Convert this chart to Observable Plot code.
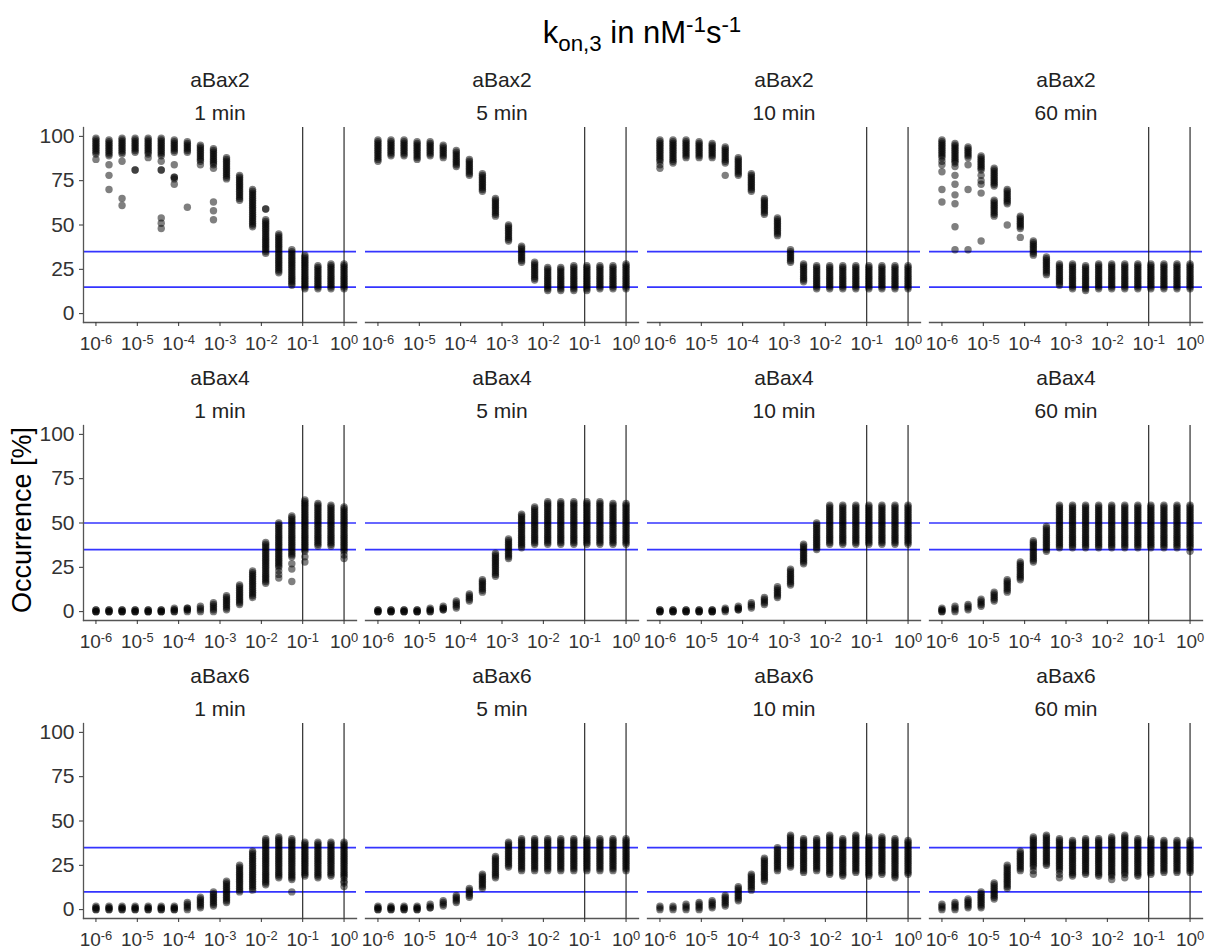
<!DOCTYPE html>
<html><head><meta charset="utf-8">
<script src="https://cdn.jsdelivr.net/npm/d3@7"></script>
<script src="https://cdn.jsdelivr.net/npm/@observablehq/plot@0.6"></script>
<style>
body{margin:0;background:#fff;font-family:"Liberation Sans",Arial,Helvetica,sans-serif;}
#root{position:relative;width:1214px;height:952px;overflow:hidden;}
.panel{position:absolute;}
#title{position:absolute;left:0;width:1284px;top:5px;text-align:center;font-size:31px;color:#000;line-height:40px;}
#title sub,#title sup{font-size:0.72em;}
#ylab{position:absolute;left:22px;top:520px;transform:translate(-50%,-50%) rotate(-90deg);font-size:27px;white-space:nowrap;color:#000;}
</style></head><body><div id="root">
<div id="title">k<sub>on,3</sub> in nM<sup>-1</sup>s<sup>-1</sup></div>
<div id="ylab">Occurrence [%]</div>
</div>
<script>
// x categories (k_on,3 values, nM^-1 s^-1)
const kon = [1e-6, 2.069e-6, 4.281e-6, 8.859e-6, 1.833e-5, 3.793e-5, 7.848e-5, 1.624e-4, 3.360e-4, 6.952e-4,
             1.438e-3, 2.976e-3, 6.158e-3, 1.274e-2, 2.637e-2, 5.456e-2, 0.1129, 0.2336, 0.4833, 1];
const proteins = ["aBax2", "aBax4", "aBax6"];
const times = ["1 min", "5 min", "10 min", "60 min"];
const xTicks = [1e-6, 1e-5, 1e-4, 1e-3, 1e-2, 1e-1, 1];
const yTicks = [0, 25, 50, 75, 100];
const vLines = [0.1, 1];
const hLines_aBax2 = [15, 35];
const hLines_aBax4 = [35, 50];
const hLines_aBax6 = [10, 35];

// occurrence values (%) per k_on,3 column
const aBax2_1min = [
"87 90 91 92 93 94 95 96 97 98 99",
"70 78 84 89 90 91 92 93 94 95 96 97 98",
"61 65 86 90 91 92 93 94 95 96 97 98 99",
"81 81 91 92 93 94 95 96 97 98 99",
"88 90 91 92 93 94 95 96 97 98 99",
"48 51 54 81 81 86 89 90 91 92 93 94 95 96 97 98 99",
"73 76 77 77 84 91 92 93 94 95 96 97 98",
"60 91 92 93 94 95 96 97",
"84 86 87 88 89 90 91 92 93 94 95",
"53 58 63 82 84 85 86 87 88 89 90 91 92 93",
"76 77 78 79 80 81 82 83 84 85 86 87 88",
"64 65 66 67 68 69 70 71 72 73 74 75 76 77 78",
"49 50 51 52 53 54 55 56 57 58 59 60 61 62 63 64 65 66 67 68 69 70",
"34 35 36 37 38 39 40 41 42 43 44 45 46 47 48 49 50 51 52 53 59 59",
"23 24 25 26 27 28 29 30 31 32 33 34 35 36 37 38 39 40 41 42 43 44 45",
"16 17 18 19 20 21 22 23 24 25 26 27 28 29 30 31 32 33 34 35 36",
"14 15 16 17 18 19 20 21 22 23 24 25 26 27 28 29 30 31 32 33",
"14 15 16 17 18 19 20 21 22 23 24 25 26 27",
"14 15 16 17 18 19 20 21 22 23 24 25 26 27 28",
"14 15 16 17 18 19 20 21 22 23 24 25 26 27 28"];
const aBax2_5min = [
"86 87 88 89 90 91 92 93 94 95 96 97 98",
"89 90 91 92 93 94 95 96 97 98",
"89 90 91 92 93 94 95 96 97 98",
"87 88 89 90 91 92 93 94 95 96 97",
"89 90 91 92 93 94 95 96 97",
"88 89 90 91 92 93 94 95",
"83 84 85 86 87 88 89 90 91 92",
"78 79 80 81 82 83 84 85 86 87",
"69 70 71 72 73 74 75 76 77 78 79",
"55 56 57 58 59 60 61 62 63 64 65",
"41 42 43 44 45 46 47 48 49 50",
"29 30 31 32 33 34 35 36 37 38",
"19 20 21 22 23 24 25 26 27 28 29",
"13 14 15 16 17 18 19 20 21 22 23 24 25 26",
"13 14 15 16 17 18 19 20 21 22 23 24 25 26",
"13 14 15 16 17 18 19 20 21 22 23 24 25 26 27",
"13 14 15 16 17 18 19 20 21 22 23 24 25 26 27",
"14 15 16 17 18 19 20 21 22 23 24 25 26 27",
"14 15 16 17 18 19 20 21 22 23 24 25 26 27",
"14 15 16 17 18 19 20 21 22 23 24 25 26 27 28"];
const aBax2_10min = [
"82 84 86 87 88 89 90 91 92 93 94 95 96 97 98",
"85 86 87 88 89 90 91 92 93 94 95 96 97 98",
"88 89 90 91 92 93 94 95 96 97 98",
"88 89 90 91 92 93 94 95 96 97",
"88 89 90 91 92 93 94 95 96",
"78 85 86 87 88 89 90 91 92 93 94",
"78 79 80 81 82 83 84 85 86 87 88",
"69 70 71 72 73 74 75 76 77 78 79",
"56 57 58 59 60 61 62 63 64 65",
"44 45 46 47 48 49 50 51 52 53 54",
"29 30 31 32 33 34 35 36",
"18 19 20 21 22 23 24 25 26 27 28",
"14 15 16 17 18 19 20 21 22 23 24 25 26 27",
"14 15 16 17 18 19 20 21 22 23 24 25 26 27",
"14 15 16 17 18 19 20 21 22 23 24 25 26 27",
"14 15 16 17 18 19 20 21 22 23 24 25 26 27",
"14 15 16 17 18 19 20 21 22 23 24 25 26 27",
"14 15 16 17 18 19 20 21 22 23 24 25 26 27",
"14 15 16 17 18 19 20 21 22 23 24 25 26 27",
"14 15 16 17 18 19 20 21 22 23 24 25 26 27"];
const aBax2_60min = [
"63 70 80 84 86 88 89 90 91 92 93 94 95 96 97 98",
"36 49 62 67 73 78 83 85 86 87 88 89 90 91 92 93 94 95 96",
"36 70 84 88 89 90 91 92 93 94",
"41 68 73 75 78 81 82 83 84 85 86 87 88 89",
"55 56 57 58 59 60 61 62 63 64 72 73 74 75 76 77 78 79 80 81 82",
"50 62 63 64 65 66 67 68 69 70",
"43 48 49 50 51 52 53 54 55",
"33 34 35 36 37 38 39 40 41",
"22 23 24 25 26 27 28 29 30 31 32",
"16 17 18 19 20 21 22 23 24 25 26 27 28",
"14 15 16 17 18 19 20 21 22 23 24 25 26 27 28",
"13 14 15 16 17 18 19 20 21 22 23 24 25 26 27",
"14 15 16 17 18 19 20 21 22 23 24 25 26 27 28",
"14 15 16 17 18 19 20 21 22 23 24 25 26 27 28",
"14 15 16 17 18 19 20 21 22 23 24 25 26 27 28",
"14 15 16 17 18 19 20 21 22 23 24 25 26 27 28",
"14 15 16 17 18 19 20 21 22 23 24 25 26 27 28",
"14 15 16 17 18 19 20 21 22 23 24 25 26 27 28",
"14 15 16 17 18 19 20 21 22 23 24 25 26 27 28",
"14 15 16 17 18 19 20 21 22 23 24 25 26 27 28"];
const aBax4_1min = [
"0 0 0 1 1", "0 0 0 1 1", "0 0 0 1 1", "0 0 0 1 1", "0 0 0 1 1", "0 0 0 1 1",
"0 0 1 1 2",
"0 1 1 2 2",
"0 1 2 3",
"0 1 2 3 4 5",
"1 2 3 4 5 6 7 8 9",
"4 5 6 7 8 9 10 11 12 13 14 15",
"8 9 10 11 12 13 14 15 16 17 18 19 20 21 22 23",
"16 17 18 19 20 21 22 23 24 25 26 27 28 29 30 31 32 33 34 35 36 37 38 39",
"19 21 23 25 26 27 28 29 30 31 32 33 34 35 36 37 38 39 40 41 42 43 44 45 46 47 48 49 50",
"17 24 27 31 32 33 34 35 36 37 38 39 40 41 42 43 44 45 46 47 48 49 50 51 52 53 54",
"28 31 34 35 36 37 38 39 40 41 42 43 44 45 46 47 48 49 50 51 52 53 54 55 56 57 58 59 60 61 62 63",
"37 38 39 40 41 42 43 44 45 46 47 48 49 50 51 52 53 54 55 56 57 58 59 60 61",
"37 38 39 40 41 42 43 44 45 46 47 48 49 50 51 52 53 54 55 56 57 58 59 60",
"30 32 34 35 36 37 38 39 40 41 42 43 44 45 46 47 48 49 50 51 52 53 54 55 56 57 58 59"];
const aBax4_5min = [
"0 0 0 1 1", "0 0 0 1 1", "0 0 0 1 1", "0 0 0 1 1", "0 0 1 1 2",
"1 1 2 2 3",
"2 3 4 5 6",
"6 7 8 9 10",
"11 12 13 14 15 16 17 18",
"20 21 22 23 24 25 26 27 28 29 30 31 32 33",
"30 31 32 33 34 35 36 37 38 39 40 41",
"36 37 38 39 40 41 42 43 44 45 46 47 48 49 50 51 52 53 54 55",
"38 39 40 41 42 43 44 45 46 47 48 49 50 51 52 53 54 55 56 57 58 59",
"38 39 40 41 42 43 44 45 46 47 48 49 50 51 52 53 54 55 56 57 58 59 60 61 62",
"38 39 40 41 42 43 44 45 46 47 48 49 50 51 52 53 54 55 56 57 58 59 60 61 62",
"38 39 40 41 42 43 44 45 46 47 48 49 50 51 52 53 54 55 56 57 58 59 60 61 62",
"38 39 40 41 42 43 44 45 46 47 48 49 50 51 52 53 54 55 56 57 58 59 60 61 62",
"38 39 40 41 42 43 44 45 46 47 48 49 50 51 52 53 54 55 56 57 58 59 60 61 62",
"38 39 40 41 42 43 44 45 46 47 48 49 50 51 52 53 54 55 56 57 58 59 60 61",
"38 39 40 41 42 43 44 45 46 47 48 49 50 51 52 53 54 55 56 57 58 59 60 61"];
const aBax4_10min = [
"0 0 0 1 1", "0 0 0 1 1", "0 0 0 1 1", "0 0 0 1 1", "0 0 0 1 1",
"0 1 1 2",
"1 1 2 2 3",
"2 3 4 5",
"4 5 6 7 8",
"8 9 10 11 12 13 14",
"15 16 17 18 19 20 21 22 23 24",
"27 28 29 30 31 32 33 34 35 36 37 38",
"35 36 37 38 39 40 41 42 43 44 45 46 47 48 49 50",
"38 39 40 41 42 43 44 45 46 47 48 49 50 51 52 53 54 55 56 57 58 59 60",
"38 39 40 41 42 43 44 45 46 47 48 49 50 51 52 53 54 55 56 57 58 59 60",
"38 39 40 41 42 43 44 45 46 47 48 49 50 51 52 53 54 55 56 57 58 59 60",
"38 39 40 41 42 43 44 45 46 47 48 49 50 51 52 53 54 55 56 57 58 59 60",
"38 39 40 41 42 43 44 45 46 47 48 49 50 51 52 53 54 55 56 57 58 59 60",
"38 39 40 41 42 43 44 45 46 47 48 49 50 51 52 53 54 55 56 57 58 59 60",
"38 39 40 41 42 43 44 45 46 47 48 49 50 51 52 53 54 55 56 57 58 59 60"];
const aBax4_60min = [
"0 0 1 1 2",
"0 1 2 3",
"1 2 3 4",
"3 4 5 6 7",
"6 7 8 9 10 11",
"11 12 13 14 15 16 17 18",
"18 19 20 21 22 23 24 25 26 27 28",
"28 29 30 31 32 33 34 35 36 37 38 39 40",
"34 35 36 37 38 39 40 41 42 43 44 45 46 47 48",
"36 37 38 39 40 41 42 43 44 45 46 47 48 49 50 51 52 53 54 55 56 57 58 59 60",
"36 37 38 39 40 41 42 43 44 45 46 47 48 49 50 51 52 53 54 55 56 57 58 59 60",
"36 37 38 39 40 41 42 43 44 45 46 47 48 49 50 51 52 53 54 55 56 57 58 59 60",
"36 37 38 39 40 41 42 43 44 45 46 47 48 49 50 51 52 53 54 55 56 57 58 59 60",
"36 37 38 39 40 41 42 43 44 45 46 47 48 49 50 51 52 53 54 55 56 57 58 59 60",
"36 37 38 39 40 41 42 43 44 45 46 47 48 49 50 51 52 53 54 55 56 57 58 59 60",
"36 37 38 39 40 41 42 43 44 45 46 47 48 49 50 51 52 53 54 55 56 57 58 59 60",
"36 37 38 39 40 41 42 43 44 45 46 47 48 49 50 51 52 53 54 55 56 57 58 59 60",
"36 37 38 39 40 41 42 43 44 45 46 47 48 49 50 51 52 53 54 55 56 57 58 59 60",
"36 37 38 39 40 41 42 43 44 45 46 47 48 49 50 51 52 53 54 55 56 57 58 59 60",
"34 36 37 38 39 40 41 42 43 44 45 46 47 48 49 50 51 52 53 54 55 56 57 58 59 60"];
const aBax6_1min = [
"0 0 1 1 2", "0 0 1 1 2", "0 0 1 1 2", "0 0 1 1 2", "0 0 1 1 2", "0 0 1 1 2", "0 0 1 1 2",
"0 1 2 3 4",
"1 2 3 4 5 6 7",
"2 3 4 5 6 7 8 9 10",
"4 5 6 7 8 9 10 11 12 13 14 15 16",
"10 11 12 13 14 15 16 17 18 19 20 21 22 23 24 25",
"11 12 13 14 15 16 17 18 19 20 21 22 23 24 25 26 27 28 29 30 31 32 33",
"14 15 16 17 18 19 20 21 22 23 24 25 26 27 28 29 30 31 32 33 34 35 36 37 38 39 40",
"18 19 20 21 22 23 24 25 26 27 28 29 30 31 32 33 34 35 36 37 38 39 40 41",
"10 17 18 19 20 21 22 23 24 25 26 27 28 29 30 31 32 33 34 35 36 37 38 39 40",
"19 20 21 22 23 24 25 26 27 28 29 30 31 32 33 34 35 36 37 38",
"18 19 20 21 22 23 24 25 26 27 28 29 30 31 32 33 34 35 36 37 38",
"19 20 21 22 23 24 25 26 27 28 29 30 31 32 33 34 35 36 37 38",
"13 15 16 18 19 20 21 22 23 24 25 26 27 28 29 30 31 32 33 34 35 36 37 38"];
const aBax6_5min = [
"0 0 1 1 2", "0 0 1 1 2", "0 0 1 1 2", "0 0 1 1 2", "1 1 2 3",
"2 3 4 5",
"4 5 6 7 8",
"7 8 9 10 11 12",
"12 13 14 15 16 17 18 19 20",
"18 19 20 21 22 23 24 25 26 27 28 29 30",
"24 25 26 27 28 29 30 31 32 33 34 35 36 37 38",
"22 23 24 25 26 27 28 29 30 31 32 33 34 35 36 37 38 39 40",
"22 23 24 25 26 27 28 29 30 31 32 33 34 35 36 37 38 39 40",
"22 23 24 25 26 27 28 29 30 31 32 33 34 35 36 37 38 39 40",
"22 23 24 25 26 27 28 29 30 31 32 33 34 35 36 37 38 39 40",
"22 23 24 25 26 27 28 29 30 31 32 33 34 35 36 37 38 39 40",
"22 23 24 25 26 27 28 29 30 31 32 33 34 35 36 37 38 39 40",
"22 23 24 25 26 27 28 29 30 31 32 33 34 35 36 37 38 39 40",
"22 23 24 25 26 27 28 29 30 31 32 33 34 35 36 37 38 39 40",
"22 23 24 25 26 27 28 29 30 31 32 33 34 35 36 37 38 39 40"];
const aBax6_10min = [
"0 1 2", "0 1 2", "0 1 2 3", "0 1 2 3 4",
"1 2 3 4 5",
"2 3 4 5 6 7 8",
"5 6 7 8 9 10 11 12 13",
"11 12 13 14 15 16 17 18 19 20",
"16 17 18 19 20 21 22 23 24 25 26 27 28 29",
"22 23 24 25 26 27 28 29 30 31 32 33 34 35",
"24 25 26 27 28 29 30 31 32 33 34 35 36 37 38 39 40 41 42",
"21 22 23 24 25 26 27 28 29 30 31 32 33 34 35 36 37 38 39 40",
"22 23 24 25 26 27 28 29 30 31 32 33 34 35 36 37 38 39 40",
"20 21 22 23 24 25 26 27 28 29 30 31 32 33 34 35 36 37 38 39 40 41 42",
"19 20 21 22 23 24 25 26 27 28 29 30 31 32 33 34 35 36 37 38 39 40",
"21 22 23 24 25 26 27 28 29 30 31 32 33 34 35 36 37 38 39 40 41 42",
"19 20 21 22 23 24 25 26 27 28 29 30 31 32 33 34 35 36 37 38 39 40 41",
"20 21 22 23 24 25 26 27 28 29 30 31 32 33 34 35 36 37 38 39 40 41",
"18 19 20 21 22 23 24 25 26 27 28 29 30 31 32 33 34 35 36 37 38 39 40",
"20 21 22 23 24 25 26 27 28 29 30 31 32 33 34 35 36 37 38 39"];
const aBax6_60min = [
"0 1 2 3",
"0 1 2 3 4",
"1 2 3 4 5 6",
"1 2 3 4 5 6 7 8 9 10",
"6 7 8 9 10 11 12 13 14 15",
"12 13 14 15 16 17 18 19 20 21 22 23 24 25",
"22 23 24 25 26 27 28 29 30 31 32 33",
"20 22 24 25 26 27 28 29 30 31 32 33 34 35 36 37 38 39 40 41",
"25 26 27 28 29 30 31 32 33 34 35 36 37 38 39 40 41 42",
"18 20 22 23 24 25 26 27 28 29 30 31 32 33 34 35 36 37 38 39 40",
"19 20 21 22 23 24 25 26 27 28 29 30 31 32 33 34 35 36 37 38 39",
"20 21 22 23 24 25 26 27 28 29 30 31 32 33 34 35 36 37 38 39 40",
"19 20 21 22 23 24 25 26 27 28 29 30 31 32 33 34 35 36 37 38 39 40",
"17 19 20 21 22 23 24 25 26 27 28 29 30 31 32 33 34 35 36 37 38 39 40 41",
"18 20 21 22 23 24 25 26 27 28 29 30 31 32 33 34 35 36 37 38 39 40 41 42",
"19 20 21 22 23 24 25 26 27 28 29 30 31 32 33 34 35 36 37 38 39 40",
"20 21 22 23 24 25 26 27 28 29 30 31 32 33 34 35 36 37 38 39 40",
"21 22 23 24 25 26 27 28 29 30 31 32 33 34 35 36 37 38 39",
"21 22 23 24 25 26 27 28 29 30 31 32 33 34 35 36 37 38 39",
"21 22 23 24 25 26 27 28 29 30 31 32 33 34 35 36 37 38 39"];

const panels = {
  aBax2: [aBax2_1min, aBax2_5min, aBax2_10min, aBax2_60min],
  aBax4: [aBax4_1min, aBax4_5min, aBax4_10min, aBax4_60min],
  aBax6: [aBax6_1min, aBax6_5min, aBax6_10min, aBax6_60min]
};
const hLines = {aBax2: hLines_aBax2, aBax4: hLines_aBax4, aBax6: hLines_aBax6};

const root = document.getElementById("root");
const ML = 60, MR = 10, MT = 60, MB = 40, FW = 273, FH = 195;
const colLeft = [83, 365, 647, 929];
const rowTop = [127, 425, 723];
const NS = "http://www.w3.org/2000/svg";

proteins.forEach((prot, r) => {
  times.forEach((time, c) => {
    const cols = panels[prot][c];
    const data = [];
    cols.forEach((s, k) => s.trim().split(/\s+/).forEach(v => data.push({kon: kon[k], occ: +v})));
    const marks = [
      Plot.ruleY(hLines[prot], {stroke: "#3434ff", strokeWidth: 1.7}),
      Plot.ruleX(vLines, {stroke: "#1a1a1a", strokeWidth: 1.1}),
      Plot.dot(data, {x: "kon", y: "occ", r: 3.7, fill: "black", fillOpacity: 0.5, stroke: "none"}),
      Plot.frame({anchor: "bottom", stroke: "#555", strokeWidth: 1.3}),
      Plot.axisX({ticks: xTicks, tickFormat: d => String(Math.round(Math.log10(d))), tickSize: 4,
                  tickPadding: 10, fontSize: 19, color: "#333", label: null}),
      Plot.text([prot], {frameAnchor: "top", lineAnchor: "middle", dy: -47, fontSize: 21, fill: "#222"}),
      Plot.text([time], {frameAnchor: "top", lineAnchor: "middle", dy: -14, fontSize: 21, fill: "#222"})
    ];
    if (c === 0) {
      marks.push(Plot.frame({anchor: "left", stroke: "#555", strokeWidth: 1.3}));
      marks.push(Plot.axisY({ticks: yTicks, tickSize: 4, tickPadding: 5, fontSize: 21, color: "#333", label: null}));
    }
    const chart = Plot.plot({
      width: ML + FW + MR, height: MT + FH + MB,
      marginLeft: ML, marginRight: MR, marginTop: MT, marginBottom: MB,
      style: {background: "transparent", fontFamily: "'Liberation Sans', Arial, sans-serif"},
      x: {type: "log", domain: [5e-7, 2]},
      y: {domain: [-5, 105], ...(c === 0 ? {} : {axis: null})},
      marks
    });
    // render tick labels as 10 with a raised exponent
    chart.querySelectorAll('g[aria-label="x-axis tick label"] text').forEach(t => {
      const e = t.textContent;
      t.textContent = "";
      const a = document.createElementNS(NS, "tspan"); a.textContent = "10";
      const b = document.createElementNS(NS, "tspan");
      b.setAttribute("dy", "-0.45em"); b.setAttribute("font-size", "0.68em"); b.textContent = e;
      t.appendChild(a); t.appendChild(b);
    });
    chart.classList.add("panel");
    chart.style.left = (colLeft[c] - ML) + "px";
    chart.style.top = (rowTop[r] - MT) + "px";
    chart.style.position = "absolute";
    root.appendChild(chart);
  });
});
</script>
</body></html>
